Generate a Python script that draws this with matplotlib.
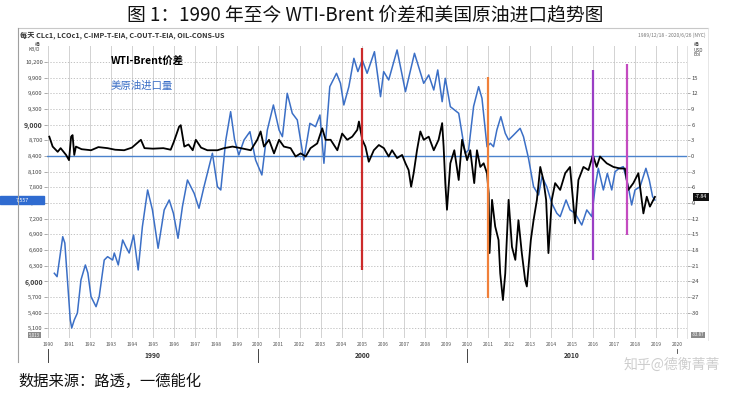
import matplotlib
matplotlib.use("Agg")
import matplotlib.pyplot as plt
from matplotlib.lines import Line2D
import numpy as np

plt.rcParams['font.family'] = ['Noto Sans CJK SC', 'DejaVu Sans']

# ---------------- data ----------------
imp_years = [1990.3, 1990.43, 1990.7, 1990.8, 1991.06, 1991.13, 1991.25, 1991.4, 1991.57, 1991.78,
             1991.9, 1992.05, 1992.29, 1992.44, 1992.68, 1992.84, 1993.08, 1993.16, 1993.35, 1993.56,
             1993.71, 1993.87, 1994.08, 1994.3, 1994.5, 1994.75, 1994.98, 1995.25, 1995.54, 1995.78,
             1995.98, 1996.2, 1996.41, 1996.65, 1996.97, 1997.2, 1997.44, 1997.84, 1998.08, 1998.24,
             1998.48, 1998.71, 1998.9, 1999.1, 1999.35, 1999.63, 1999.9, 2000.2, 2000.46, 2000.75,
             2001.02, 2001.18, 2001.41, 2001.65, 2001.89, 2002.2, 2002.49, 2002.76, 2002.97, 2003.16,
             2003.44, 2003.76, 2003.95, 2004.11, 2004.35, 2004.59, 2004.78, 2004.99, 2005.22, 2005.57,
             2005.86, 2006.01, 2006.25, 2006.65, 2007.05, 2007.48, 2007.92, 2008.16, 2008.4, 2008.59,
             2008.8, 2008.95, 2009.19, 2009.59, 2009.9, 2010.06, 2010.3, 2010.54, 2010.7, 2010.94,
             2011.1, 2011.25, 2011.41, 2011.6, 2011.81, 2011.97, 2012.21, 2012.52, 2012.68, 2012.92,
             2013.16, 2013.4, 2013.56, 2013.79, 2014.03, 2014.27, 2014.43, 2014.71, 2014.9, 2015.14,
             2015.46, 2015.7, 2015.94, 2016.1, 2016.25, 2016.49, 2016.68, 2016.89, 2017.05, 2017.25,
             2017.44, 2017.68, 2017.84, 2018.0, 2018.24, 2018.52, 2018.68, 2018.84, 2018.95]
imp_kbd = [6153, 6088, 6854, 6733, 5258, 5105, 5258, 5392, 6025, 6312,
           6158, 5705, 5513, 5705, 6407, 6471, 6407, 6541, 6312, 6791,
           6663, 6541, 6886, 6216, 7046, 7749, 7366, 6632, 7366, 7557,
           7302, 6823, 7429, 7940, 7685, 7398, 7812, 8452, 7812, 7749,
           8707, 9249, 8707, 8419, 8707, 8866, 8323, 8036, 8898, 9377,
           8898, 8770, 9601, 9218, 9090, 8323, 9026, 8962, 9185, 8260,
           9728, 9984, 9792, 9377, 9728, 10271, 10017, 10239, 9984, 10398,
           9536, 10017, 9856, 10431, 9632, 10367, 9792, 9952, 9664, 10048,
           9440, 9888, 9345, 9218, 8452, 8515, 9350, 9728, 9505, 8578,
           8643, 8578, 8898, 9153, 8835, 8707, 8802, 8930, 8770, 8355,
           7812, 7653, 8003, 7812, 7494, 7302, 7238, 7557, 7366, 7302,
           7078, 7366, 7238, 7812, 8164, 7749, 8068, 7749, 8100, 8164,
           8196, 7812, 7461, 7749, 7812, 8164, 7940, 7621, 7557]

spr_years = [1990.06, 1990.22, 1990.46, 1990.6, 1990.86, 1991.0, 1991.1, 1991.17, 1991.25, 1991.33,
             1991.6, 1992.05, 1992.4, 1992.84, 1993.2, 1993.63, 1994.0, 1994.43, 1994.6, 1995.0,
             1995.5, 1995.85, 1996.0, 1996.25, 1996.33, 1996.5, 1996.7, 1996.9, 1997.05, 1997.3,
             1997.6, 1998.08, 1998.4, 1998.8, 1999.19, 1999.67, 1999.98, 2000.14, 2000.3, 2000.54,
             2000.78, 2001.02, 2001.25, 2001.57, 2001.81, 2002.05, 2002.29, 2002.52, 2002.84, 2003.08,
             2003.24, 2003.48, 2003.8, 2004.03, 2004.27, 2004.51, 2004.75, 2004.83, 2004.99, 2005.14,
             2005.3, 2005.54, 2005.78, 2006.02, 2006.25, 2006.41, 2006.65, 2006.89, 2007.05, 2007.2,
             2007.32, 2007.44, 2007.6, 2007.76, 2007.92, 2008.16, 2008.4, 2008.63, 2008.8, 2008.87,
             2008.95, 2009.03, 2009.19, 2009.38, 2009.59, 2009.75, 2009.99, 2010.14, 2010.33, 2010.46,
             2010.62, 2010.78, 2010.94, 2011.02, 2011.06, 2011.18, 2011.33, 2011.49, 2011.57, 2011.7,
             2011.81, 2011.97, 2012.13, 2012.29, 2012.44, 2012.6, 2012.76, 2012.84, 2012.92, 2013.03,
             2013.16, 2013.32, 2013.48, 2013.63, 2013.76, 2013.87, 2014.03, 2014.19, 2014.43, 2014.67,
             2014.9, 2015.14, 2015.3, 2015.54, 2015.78, 2015.99, 2016.17, 2016.33, 2016.65, 2016.97,
             2017.29, 2017.52, 2017.68, 2017.92, 2018.16, 2018.4, 2018.56, 2018.71, 2018.95]
spr_usd = [3.7, 1.8, 0.8, 1.5, 0.2, -0.8, 3.7, 4.0, 0.2, 1.8,
           1.3, 1.1, 1.7, 1.5, 1.2, 1.1, 1.6, 3.1, 1.5, 1.4,
           1.5, 1.2, 2.7, 5.6, 5.9, 1.8, 2.2, 1.1, 3.1, 1.6,
           1.1, 1.1, 1.5, 1.8, 1.5, 1.1, 3.1, 4.7, 1.8, 3.1,
           0.5, 3.1, 1.8, 1.5, -0.1, 0.5, -0.1, 1.5, 2.4, 5.3,
           3.1, 3.1, 1.1, 4.3, 3.1, 3.7, 5.0, 6.6, 3.1, 1.8,
           -1.1, 1.1, 2.1, 1.5, -0.1, 1.1, -0.4, 0.2, -1.4, -2.7,
           -5.9, -3.3, 1.1, 4.7, 3.1, 3.7, 1.1, 3.1, 6.3, 1.8,
           -5.2, -10.3, -1.4, 1.1, -4.6, 3.1, -0.8, 1.1, -5.2, 1.1,
           -2.1, -1.4, -3.3, -7.2, -18.6, -8.4, -13.5, -16.1, -22.5, -27.6,
           -22.5, -8.4, -17.4, -19.9, -12.3, -18.6, -23.8, -25.0, -21.2, -16.1,
           -12.3, -8.4, -2.1, -4.6, -8.4, -18.6, -8.4, -5.2, -6.5, -3.3,
           -2.1, -12.9, -4.6, -2.1, -2.7, 0.2, -2.1, -0.1, -1.4, -2.1,
           -2.4, -2.4, -6.5, -5.2, -3.3, -11.0, -7.8, -9.7, -7.84]

year_ticks = list(range(1990, 2021))
left_ticks = list(range(5100, 10201, 300))
right_ticks = list(range(-30, 16, 3))
event_years = [2005.0, 2011.0, 2016.0, 2017.6]
event_colors = ['#cc2b2b', '#f0803a', '#9a3fc4', '#c44bc0']
event_ranges = [(-21.8, 20.7), (-27.2, 15.1), (-19.9, 16.5), (-15.1, 17.6)]

# ---------------- figure ----------------
W, H = 731, 393
fig = plt.figure(figsize=(W / 100, H / 100), dpi=100)

def fx(px):
    return px / W

def fy(py):
    return 1 - py / H

L, R, T, B = 47, 687, 46, 338
ax = fig.add_axes([fx(L), fy(B), fx(R) - fx(L), fy(T) - fy(B)])
ax2 = ax.twinx()

ax.set_xlim(1989.95, 2020.48)
ax.set_ylim(4913, 10507)
ax2.set_ylim(-34.87, 21.07)

# grid
ax.set_yticks(left_ticks)
ax.set_xticks(year_ticks)
ax.grid(axis='y', color='#b8b8b8', linestyle=(0, (1.5, 2)), linewidth=0.6)
ax.grid(axis='x', color='#d2d2d2', linestyle='-', linewidth=0.7)

# series
ax.plot(imp_years, imp_kbd, color='#3b6fc6', linewidth=1.1, zorder=3)
ax2.axhline(0, color='#4a82cc', linewidth=1.0, zorder=2)
ax2.plot(spr_years, spr_usd, color='black', linewidth=1.3, zorder=4)
for yr, c, (lo, hi) in zip(event_years, event_colors, event_ranges):
    ax2.vlines(yr, lo, hi, color=c, linewidth=1.6, zorder=5)

# ticks / labels
ax.set_yticklabels([f"{v:,}" for v in left_ticks], fontsize=4.2, color='#444444')
for lab, v in zip(ax.get_yticklabels(), left_ticks):
    if v in (6000, 9000):
        lab.set_fontweight('bold')
        lab.set_fontsize(5)
ax.tick_params(axis='y', length=2, width=0.5, color='#888888', pad=1)
ax.set_xticklabels([str(y) for y in year_ticks], fontsize=3.6, color='#555555')
ax.tick_params(axis='x', length=0, pad=3)
ax2.set_yticks(right_ticks)
ax2.set_yticklabels([str(v) for v in right_ticks], fontsize=4.2, color='#444444')
ax2.tick_params(axis='y', length=2, width=0.5, color='#888888', pad=1)

for a in (ax, ax2):
    for s in a.spines.values():
        s.set_visible(False)
ax2.spines['right'].set_visible(True)
ax2.spines['right'].set_color('#dddddd')
ax2.spines['right'].set_linewidth(0.6)

# in-plot annotations
ax.text(1993.0, 10150, 'WTI-Brent价差', fontsize=7.5, fontweight='bold', color='black', zorder=6)
ax.text(1993.0, 9680, '美原油进口量', fontsize=7.5, color='#3b6fc6', zorder=6)

# value boxes
fig.patches.append(plt.Rectangle((fx(0), fy(204)), fx(44), 8 / H, transform=fig.transFigure,
                                 color='#2f6bd0', zorder=0))
fig.text(fx(22), fy(200), '7,557', fontsize=3.8, color='white', ha='center', va='center')
fig.text(fx(701), fy(197), '-7.84', fontsize=3.8, color='white', ha='center', va='center',
         bbox=dict(boxstyle='square,pad=0.35', fc='#111111', ec='none'))
fig.text(fx(40), fy(335), '5,013', fontsize=3.2, color='white', ha='right', va='center',
         bbox=dict(boxstyle='square,pad=0.2', fc='#8a8a8a', ec='none'))
fig.text(fx(692), fy(335), '-33.87', fontsize=3.2, color='white', ha='left', va='center',
         bbox=dict(boxstyle='square,pad=0.2', fc='#8a8a8a', ec='none'))

# axis unit labels
fig.text(fx(40), fy(47), '桶\nKB/D', fontsize=3.4, color='#444444', ha='right', va='center',
         linespacing=1.0)
fig.text(fx(694), fy(50), '桶\nUSD\nBbl', fontsize=3.4, color='#444444', ha='left', va='center',
         linespacing=1.0)

# frame of the chart panel
fig.add_artist(Line2D([fx(18), fx(708)], [fy(28), fy(28)], color='#c8c8c8', linewidth=0.8))
fig.add_artist(Line2D([fx(18), fx(18)], [fy(28), fy(362)], color='#a0a0a0', linewidth=0.8))
fig.add_artist(Line2D([fx(708), fx(708)], [fy(28), fy(340)], color='#e2e2e2', linewidth=0.6))

# header
fig.text(fx(20), fy(35), '每天 CLc1, LCOc1, C-IMP-T-EIA, C-OUT-T-EIA, OIL-CONS-US',
         fontsize=5.2, fontweight='bold', color='#333333', ha='left', va='center')
fig.text(fx(706), fy(35), '1989/12/18 - 2020/6/26 (NYC)', fontsize=3.6, color='#777777',
         ha='right', va='center')

# decade labels and ticks
def xpix(year):
    return L + (year - 1989.95) / (2020.48 - 1989.95) * (R - L)

for d in (1990, 2000, 2010):
    fig.add_artist(Line2D([fx(xpix(d)), fx(xpix(d))], [fy(349), fy(362)], color='#444444',
                          linewidth=0.7))
    fig.text(fx(xpix(d + 5)), fy(356), str(d), fontsize=4.8, fontweight='bold', color='#333333',
             ha='center', va='center')
fig.add_artist(Line2D([fx(xpix(2020)), fx(xpix(2020))], [fy(349), fy(353)], color='#444444',
                      linewidth=0.6))

# title, source, watermark
fig.text(0.5, fy(15), '图 1：1990 年至今 WTI-Brent 价差和美国原油进口趋势图', fontsize=13.5,
         color='#111111', ha='center', va='center')
fig.text(fx(18), fy(381), '数据来源：路透，一德能化', fontsize=11, color='#111111',
         ha='left', va='center')
fig.text(fx(720), fy(365), '知乎@德衡菁菁', fontsize=10, color='#c8c8c8', ha='right',
         va='center', alpha=0.9)

fig.savefig('out.png', dpi=100)
